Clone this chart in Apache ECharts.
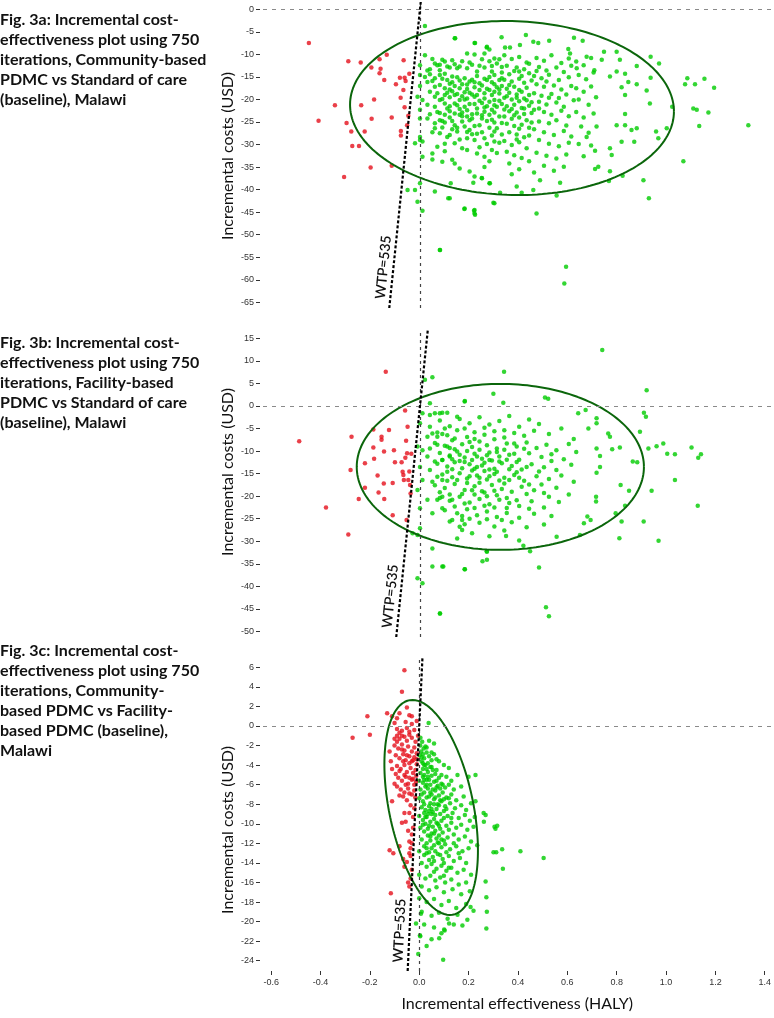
<!DOCTYPE html>
<html><head><meta charset="utf-8">
<script src="https://cdn.jsdelivr.net/npm/echarts@6/dist/echarts.min.js"></script>
<style>html,body{margin:0;padding:0;background:#fff}#c{width:774px;height:1018px}</style>
</head><body><div id="c"></div>
<script>
// ---------- tick labels ----------
const xTicks = [-0.6,-0.4,-0.2,0.0,0.2,0.4,0.6,0.8,1.0,1.2,1.4];
const yTicksA = [0,-5,-10,-15,-20,-25,-30,-35,-40,-45,-50,-55,-60,-65];
const yTicksB = [15,10,5,0,-5,-10,-15,-20,-25,-30,-35,-40,-45,-50];
const yTicksC = [6,4,2,0,-2,-4,-6,-8,-10,-12,-14,-16,-18,-20,-22,-24];
const WTP = 535;
const xName = 'Incremental effectiveness (HALY)';
const yName = 'Incremental costs (USD)';
const titles = [
 "Fig. 3a: Incremental cost-\neffectiveness plot using 750\niterations, Community-based\nPDMC vs Standard of care\n(baseline), Malawi",
 "Fig. 3b: Incremental cost-\neffectiveness plot using 750\niterations, Facility-based\nPDMC vs Standard of care\n(baseline), Malawi",
 "Fig. 3c: Incremental cost-\neffectiveness plot using 750\niterations, Community-\nbased PDMC vs Facility-\nbased PDMC (baseline),\nMalawi"
];
// confidence ellipses: [centre x, centre y, radius x, radius y, phase (deg)]
const ellipseA = [0.371,-21.9,0.653,19.3,92.2];
const ellipseB = [0.324,-13.5,0.579,18.4,90];
const ellipseC = [0.0484,-8.33,0.1895,10.99,113.6];

// ---------- panel a ----------
const redA = [[-0.448,-7.5],[-0.289,-11.5],[-0.239,-11.8],[-0.196,-12.9],[-0.163,-11.1],[-0.159,-13.2],[-0.163,-14.2],[-0.134,-10.1],[-0.144,-15.7],[-0.097,-16.6],[-0.081,-15.2],[-0.062,-15.2],[-0.058,-15.9],[-0.067,-17.9],[-0.066,-11.3],[-0.043,-14.3],[-0.185,-20.0],[-0.343,-21.3],[-0.237,-21.3],[-0.114,-24.0],[-0.062,-21.7],[-0.078,-19.6],[-0.047,-23.6],[-0.409,-24.7],[-0.296,-25.2],[-0.195,-24.3],[-0.277,-27.1],[-0.223,-27.1],[-0.077,-27.0],[-0.077,-28.0],[-0.246,-30.3],[-0.273,-30.3],[-0.199,-35.1],[-0.306,-37.2],[-0.114,-34.7],[-0.052,-25.7]];
const greenA = [[0.02,-3.7],[0.14,-6.4],[0.22,-7.5],[0.27,-8.3],[0.28,-8.9],[0.02,-10.2],[0.19,-9.8],[0.22,-10.0],[0.26,-9.8],[0.30,-10.9],[0.32,-11.1],[0.00,-12.4],[0.06,-12.0],[0.07,-12.4],[0.10,-11.6],[0.14,-12.2],[0.11,-12.7],[0.03,-13.6],[0.04,-13.3],[0.08,-13.5],[0.15,-13.1],[0.19,-13.1],[0.23,-13.8],[0.26,-12.9],[0.29,-13.8],[0.31,-12.0],
[0.00,-14.6],[0.04,-14.4],[0.06,-15.3],[0.08,-14.6],[0.11,-15.7],[0.13,-14.9],[0.15,-15.1],[0.18,-15.3],[0.20,-16.0],[0.23,-14.8],[0.24,-16.4],[0.27,-15.7],[0.30,-14.6],[0.32,-15.7],[0.03,-16.1],[0.08,-16.8],[0.06,-17.2],[0.10,-17.5],[0.14,-17.0],[0.16,-17.5],[0.19,-17.7],[0.22,-17.3],[0.24,-17.9],[0.28,-17.9],[0.31,-17.3],
[0.00,-17.0],[-0.01,-19.4],[0.01,-20.1],[0.06,-19.4],[0.08,-20.1],[0.12,-19.5],[0.14,-19.0],[0.16,-20.1],[0.19,-19.8],[0.22,-19.4],[0.26,-19.8],[0.30,-20.1],[0.31,-21.6],[0.06,-21.6],[0.10,-20.9],[0.14,-20.9],[0.18,-21.6],[0.23,-22.0],[0.27,-21.5],[0.29,-22.3],
[0.00,-24.2],[0.03,-24.2],[0.10,-23.4],[0.12,-24.0],[0.14,-23.1],[0.16,-23.4],[0.19,-23.8],[0.20,-24.6],[0.23,-23.1],[0.25,-24.2],[0.28,-23.4],[0.32,-23.8],[0.06,-25.3],[0.10,-25.1],[0.14,-25.7],[0.18,-26.0],[0.24,-25.7],[0.30,-25.1],[0.00,-22.3],[0.06,-26.4],
[0.00,-28.3],[0.01,-29.3],[0.08,-27.5],[0.12,-27.9],[0.15,-27.1],[0.20,-26.8],[0.26,-28.6],[0.30,-27.1],[0.07,-30.5],[0.10,-29.8],[0.14,-29.7],[0.19,-28.6],[0.22,-29.0],[0.27,-29.9],[0.30,-29.3],
[-0.02,-29.7],[0.00,-29.0],[0.01,-32.7],[0.05,-32.0],[0.09,-33.8],[0.13,-33.4],[0.19,-31.2],[0.23,-32.0],[0.26,-32.7],[0.29,-31.2],[0.05,-33.3],[0.16,-35.3],[0.20,-36.0],[0.22,-37.1],[0.25,-37.5],[0.28,-38.6],[0.14,-34.2],
[-0.05,-40.1],[-0.02,-40.1],[-0.00,-38.6],[0.06,-40.4],[0.12,-41.9],[0.18,-44.2],[0.22,-44.5],[0.22,-45.3],[0.30,-43.0],[-0.01,-42.7],[0.01,-44.7],[0.08,-53.4],
[0.142,-6.4],[0.329,-6.2],[0.427,-5.7],[0.457,-7.2],[0.521,-7.0],[0.621,-6.3],[0.656,-7.0],[0.222,-7.5],[0.269,-8.5],[0.343,-8.5],[0.363,-8.5],[0.403,-7.9],[0.477,-7.5],[0.598,-8.8],[0.605,-9.8],[0.742,-9.4],[0.793,-9.4],[0.930,-10.5],[0.964,-12.0],[0.672,-10.5],[0.733,-11.2],[0.806,-11.2],[0.874,-12.6],[0.632,-13.1],[0.703,-13.5],[0.766,-14.9],[0.793,-13.8],[0.827,-14.3],[0.840,-16.1],[0.813,-17.3],[0.874,-16.6],[0.827,-19.0],[0.930,-15.2],[0.914,-18.0],[0.927,-20.9],[1.078,-15.3],[1.069,-16.6],[1.109,-16.6],[1.147,-15.4],[1.186,-17.4],[1.102,-22.0],[1.116,-22.3],[1.163,-22.9],[1.126,-25.9],[1.324,-25.7],[1.017,-21.6],[0.995,-26.4],[0.961,-28.6],[0.952,-27.1],[0.874,-26.4],[0.853,-26.8],[0.827,-25.7],[0.793,-25.7],[0.827,-23.2],[0.712,-26.0],[0.672,-28.3],[0.706,-31.4],[0.766,-30.8],[0.773,-32.3],[0.864,-29.4],[0.813,-29.4],[1.062,-33.7],[0.719,-34.9],[0.706,-35.4],[0.766,-35.9],[0.817,-36.9],[0.762,-38.1],[0.901,-37.9],[0.923,-41.9],[0.484,-37.9],[0.565,-38.5],[0.551,-41.3],[0.457,-40.1],[0.410,-40.7],[0.323,-40.7],[0.390,-39.3],[0.296,-42.9],[0.215,-38.5],[0.282,-38.6],[0.249,-37.4],[0.124,-38.6],[0.114,-41.9],[0.179,-44.3],[0.218,-44.7],[0.222,-45.6],[0.470,-45.3],[0.081,-53.4],[0.589,-57.1],[0.582,-60.8],
[0.34,-10.2],[0.37,-11.0],[0.40,-10.6],[0.43,-11.8],[0.35,-12.5],[0.39,-12.9],[0.42,-13.3],[0.44,-12.1],[0.33,-14.0],[0.36,-14.4],[0.38,-13.7],[0.41,-14.8],[0.44,-14.2],[0.34,-15.6],[0.37,-16.0],[0.40,-15.4],[0.42,-16.3],[0.45,-15.8],[0.33,-17.0],[0.35,-17.6],[0.38,-17.2],[0.40,-17.9],[0.43,-17.4],[0.36,-18.5],[0.39,-18.9],[0.41,-18.3],[0.44,-19.0],[0.34,-19.6],[0.37,-20.0],[0.40,-20.4],[0.42,-19.8],[0.45,-20.6],[0.33,-21.0],[0.35,-21.5],[0.38,-21.2],[0.41,-21.9],[0.44,-21.4],[0.36,-22.6],[0.39,-22.9],[0.42,-23.2],[0.34,-23.8],[0.37,-24.3],[0.40,-24.0],[0.43,-24.6],[0.35,-25.4],[0.38,-25.9],[0.41,-25.6],[0.44,-26.3],[0.36,-27.3],[0.39,-27.8],[0.42,-28.4],[0.34,-29.2],[0.37,-30.1],[0.40,-29.5],[0.43,-30.8],[0.35,-31.6],[0.38,-32.4],[0.41,-33.0],[0.36,-34.2],[0.44,-33.7],[0.40,-35.5],[0.37,-36.6],
[0.47,-10.8],[0.50,-11.4],[0.53,-10.2],[0.57,-11.9],[0.60,-10.9],[0.48,-12.8],[0.51,-13.6],[0.55,-12.9],[0.58,-13.9],[0.61,-12.5],[0.46,-14.8],[0.49,-15.3],[0.52,-14.5],[0.56,-15.7],[0.60,-15.1],[0.47,-16.6],[0.50,-17.2],[0.54,-16.9],[0.57,-17.8],[0.61,-17.0],[0.46,-18.6],[0.49,-19.2],[0.53,-18.8],[0.56,-19.7],[0.59,-18.9],[0.48,-20.5],[0.51,-21.1],[0.55,-20.7],[0.58,-21.6],[0.62,-20.2],[0.46,-22.3],[0.50,-22.8],[0.53,-23.4],[0.57,-22.5],[0.60,-23.7],[0.48,-24.9],[0.52,-25.3],[0.55,-24.6],[0.59,-25.8],[0.46,-26.6],[0.50,-27.3],[0.54,-27.9],[0.58,-27.0],[0.61,-28.2],[0.48,-29.0],[0.52,-29.8],[0.56,-30.4],[0.60,-29.6],[0.47,-31.8],[0.51,-32.5],[0.55,-33.1],[0.59,-32.2],[0.50,-34.7],[0.54,-35.8],[0.46,-36.2],[0.58,-34.9],
[0.63,-11.6],[0.66,-12.4],[0.69,-10.8],[0.64,-14.6],[0.67,-15.5],[0.70,-14.0],[0.63,-17.5],[0.66,-18.3],[0.69,-17.1],[0.64,-20.0],[0.68,-21.2],[0.71,-19.5],[0.63,-22.8],[0.66,-24.0],[0.70,-23.1],[0.65,-26.0],[0.68,-27.4],[0.64,-29.9],[0.69,-30.2],[0.66,-32.6],
[0.09,-11.2],[0.12,-12.9],[0.17,-11.5],[0.21,-12.3],[0.25,-11.1],[0.29,-12.6],[0.10,-14.3],[0.13,-16.2],[0.17,-16.6],[0.21,-15.6],[0.25,-16.9],[0.29,-16.2],[0.11,-18.5],[0.15,-18.8],[0.18,-18.4],[0.21,-18.9],[0.26,-18.6],[0.29,-19.0],[0.32,-18.7],[0.09,-19.9],[0.12,-21.5],[0.16,-22.1],[0.20,-21.0],[0.25,-20.8],[0.28,-20.5],[0.32,-20.3],[0.08,-23.0],[0.12,-22.6],[0.17,-22.9],[0.21,-23.3],[0.26,-22.7],[0.30,-22.9],[0.09,-24.8],[0.13,-26.6],[0.17,-24.9],[0.22,-25.9],[0.27,-24.8],[0.31,-26.4],[0.11,-28.3],[0.16,-28.9],[0.21,-27.7],[0.25,-27.3],[0.29,-28.0],[0.32,-29.6],[0.10,-31.5],[0.17,-30.8],[0.24,-30.6],[0.28,-33.7],[0.31,-31.9],[0.26,-35.0],
[0.05,-11.0],[0.08,-12.3],[0.13,-11.3],[0.16,-12.7],[0.20,-11.8],[0.24,-12.5],[0.28,-11.5],[0.33,-12.8],[0.02,-15.0],[0.05,-15.9],[0.09,-15.4],[0.12,-16.5],[0.16,-15.8],[0.19,-16.7],[0.22,-16.2],[0.26,-15.4],[0.30,-16.6],[0.33,-15.3],[0.04,-18.3],[0.07,-18.6],[0.10,-19.0],[0.13,-18.2],[0.17,-19.3],[0.20,-18.5],[0.23,-19.0],[0.27,-17.6],[0.30,-18.3],[0.35,-19.3],[0.39,-19.6],[0.43,-20.2],[0.03,-21.2],[0.07,-22.8],[0.11,-22.0],[0.15,-21.3],[0.19,-22.4],[0.22,-21.0],[0.26,-21.8],[0.30,-21.3],[0.34,-22.2],[0.38,-23.5],[0.42,-22.0],[0.45,-23.0],[0.04,-23.3],[0.08,-24.6],[0.13,-24.8],[0.17,-23.7],[0.21,-24.2],[0.25,-23.5],[0.29,-24.5],[0.33,-25.2],[0.37,-22.1],[0.40,-26.5],[0.45,-25.1],[0.48,-22.0],[0.52,-19.6],[0.51,-16.0],[0.47,-13.7],[0.40,-13.8],[0.36,-16.8],[0.32,-17.8],[0.28,-15.0],[0.24,-20.3],[0.18,-20.0],[0.12,-17.8],[0.05,-27.3],[0.09,-26.2],[0.15,-26.3],[0.19,-27.2],[0.23,-27.6],[0.28,-26.3],[0.33,-27.8],[0.39,-28.9],[0.44,-28.0]];

// ---------- panel b ----------
const redB = [[-0.138,7.6],[-0.487,-7.8],[-0.379,-22.5],[-0.289,-28.5],[-0.276,-6.8],[-0.280,-14.2],[-0.247,-20.6],[-0.222,-12.7],[-0.222,-18.1],[-0.188,-5.2],[-0.188,-9.2],[-0.185,-11.7],[-0.171,-15.4],[-0.167,-19.2],[-0.155,-6.8],[-0.155,-7.5],[-0.145,-10.1],[-0.146,-17.2],[-0.144,-20.6],[-0.125,-5.3],[-0.110,-17.1],[-0.110,-24.2],[-0.105,-9.8],[-0.101,-12.5],[-0.074,-12.5],[-0.070,-14.6],[-0.067,-15.3],[-0.065,-16.4],[-0.060,-1.0],[-0.056,-7.7],[-0.052,-10.5],[-0.050,-4.6],[-0.047,-16.4],[-0.043,-14.5],[-0.040,-17.5],[-0.035,-10.6],[-0.038,-19.4],[-0.054,-25.3],[-0.059,-11.5]];
const greenB = [[0.02,5.8],[0.05,6.4],[0.04,0.6],[0.01,-1.6],[0.04,-2.0],[0.06,-1.6],[0.08,-1.6],[0.09,-1.5],[0.11,-1.5],[0.15,-2.4],[0.18,1.0],[0.00,-3.8],[0.04,-4.6],[0.03,-6.8],[0.05,-6.1],[0.07,-6.8],[0.09,-6.2],[-0.01,-9.0],[0.01,-9.8],[0.04,-9.4],[0.07,-8.6],[0.11,-9.0],[0.03,-11.2],[0.06,-12.3],[0.09,-12.0],[0.12,-11.2],[0.00,-13.5],[0.04,-14.2],[0.07,-15.7],[0.11,-14.6],[0.01,-16.4],[0.05,-16.8],[0.09,-16.4],[-0.01,-18.6],[0.03,-20.8],[0.07,-20.8],[0.09,-20.1],[0.13,-20.8],[0.00,-22.7],[0.05,-23.8],[0.09,-22.7],[0.13,-25.3],[0.16,-26.8],[0.17,-25.3],[0.00,-27.1],[-0.03,-28.2],[-0.01,-28.6],[0.05,-31.6],[0.05,-35.6],[0.09,-35.6],[0.18,-36.2],[0.27,-34.1],[0.27,-32.3],[-0.01,-38.2],[0.01,-39.3],[0.08,-46.0],[0.17,-27.5],
[0.735,12.4],[0.339,7.6],[0.296,2.7],[0.504,1.9],[0.517,1.6],[0.181,1.1],[0.336,0.7],[0.914,3.5],[0.903,-1.5],[0.911,-2.4],[0.887,-5.7],[0.921,-9.4],[0.954,-8.9],[0.981,-8.3],[0.997,-10.6],[1.028,-10.7],[1.095,-9.2],[1.133,-10.7],[1.122,-11.5],[1.028,-16.4],[1.120,-22.1],[0.934,-18.8],[0.902,-25.6],[0.962,-29.9],[0.804,-29.3],[0.813,-25.6],[0.789,-23.8],[0.827,-22.1],[0.843,-18.8],[0.809,-17.5],[0.858,-12.3],[0.876,-12.5],[0.806,-9.2],[0.775,-9.6],[0.759,-6.1],[0.766,-6.8],[0.712,-2.7],[0.712,-3.8],[0.679,-5.0],[0.638,-1.6],[0.668,-0.9],[0.712,-9.4],[0.726,-11.1],[0.712,-14.8],[0.726,-13.5],[0.710,-20.1],[0.710,-21.2],[0.675,-24.5],[0.688,-25.3],[0.661,-26.0],[0.645,-28.6],[0.551,-29.0],[0.444,-32.2],[0.417,-31.0],[0.269,-32.2],[0.252,-34.4],[0.181,-36.2],[0.094,-35.6],[0.480,-35.8],[0.347,-28.8],[0.508,-44.6],[0.520,-46.6],[0.081,-46.0],
[0.08,-3.2],[0.12,-4.5],[0.16,-2.9],[0.20,-3.8],[0.24,-2.5],[0.28,-4.1],[0.32,-3.3],[0.36,-2.2],[0.40,-4.6],[0.44,-3.0],[0.48,-4.0],
[0.07,-5.9],[0.11,-6.5],[0.15,-5.4],[0.19,-6.9],[0.22,-5.8],[0.26,-6.4],[0.30,-5.6],[0.34,-7.0],[0.38,-6.0],[0.42,-6.6],[0.46,-5.5],[0.52,-6.2],[0.57,-5.0],[0.62,-7.3],
[0.06,-8.2],[0.10,-8.8],[0.13,-7.6],[0.17,-8.5],[0.21,-9.1],[0.24,-7.9],[0.27,-8.7],[0.31,-9.4],[0.35,-8.3],[0.39,-9.0],[0.43,-8.1],[0.47,-9.3],[0.51,-8.6],[0.55,-9.8],[0.60,-8.4],
[0.08,-10.4],[0.12,-11.0],[0.15,-10.1],[0.18,-11.4],[0.22,-10.6],[0.25,-11.7],[0.28,-10.3],[0.32,-11.2],[0.36,-10.8],[0.40,-11.9],[0.44,-10.5],[0.49,-11.3],[0.53,-10.7],[0.58,-11.8],[0.63,-10.2],
[0.07,-12.8],[0.11,-13.4],[0.14,-12.5],[0.17,-13.8],[0.20,-12.9],[0.23,-13.5],[0.26,-12.6],[0.30,-13.9],[0.33,-12.7],[0.37,-13.3],[0.41,-14.1],[0.45,-12.9],[0.50,-13.6],[0.55,-14.2],[0.61,-13.0],
[0.09,-15.2],[0.13,-15.8],[0.16,-14.9],[0.19,-16.1],[0.23,-15.4],[0.27,-16.3],[0.30,-15.1],[0.34,-15.9],[0.38,-15.3],[0.42,-16.6],[0.47,-15.6],[0.52,-16.2],[0.57,-15.4],[0.62,-16.8],
[0.06,-17.6],[0.10,-18.2],[0.14,-17.3],[0.18,-18.6],[0.22,-17.8],[0.25,-18.9],[0.29,-17.5],[0.33,-18.4],[0.37,-19.0],[0.41,-17.9],[0.46,-18.7],[0.50,-19.3],[0.55,-18.1],[0.60,-19.6],
[0.08,-20.4],[0.12,-21.0],[0.16,-20.1],[0.20,-21.4],[0.24,-20.6],[0.28,-21.8],[0.32,-20.8],[0.36,-21.5],[0.40,-22.2],[0.45,-21.1],[0.50,-22.5],[0.56,-21.3],
[0.10,-23.1],[0.15,-23.8],[0.19,-22.9],[0.23,-24.2],[0.27,-23.4],[0.31,-24.6],[0.35,-23.7],[0.40,-24.8],[0.46,-23.9],[0.53,-24.4],
[0.12,-25.6],[0.18,-26.2],[0.24,-25.9],[0.30,-26.7],[0.37,-25.8],[0.43,-26.9],[0.50,-26.3],[0.21,-28.2],[0.28,-28.9],[0.34,-27.6],[0.15,-29.4],[0.40,-29.8],
[0.14,-9.6],[0.19,-10.0],[0.24,-9.7],[0.29,-12.1],[0.21,-12.0],[0.16,-12.2],[0.26,-14.4],[0.31,-14.6],[0.21,-14.3],[0.35,-11.9],[0.28,-15.6],[0.24,-17.0],[0.19,-17.1],[0.34,-17.2],[0.13,-14.0],[0.39,-14.7],[0.31,-19.8],[0.22,-19.6],[0.27,-20.0],[0.43,-19.5],
[0.10,-5.0],[0.14,-7.2],[0.18,-5.0],[0.22,-7.3],[0.26,-4.8],[0.30,-7.4],[0.34,-5.4],[0.38,-8.3],[0.12,-9.3],[0.16,-10.8],[0.20,-8.0],[0.23,-11.2],[0.27,-10.9],[0.31,-10.2],[0.34,-9.7],[0.38,-10.6],[0.42,-9.5],[0.09,-12.0],[0.13,-11.8],[0.18,-12.4],[0.22,-13.9],[0.25,-13.2],[0.28,-12.0],[0.32,-12.3],[0.36,-14.0],[0.39,-12.4],[0.43,-13.5],[0.11,-16.6],[0.15,-16.4],[0.20,-15.6],[0.24,-15.9],[0.28,-14.1],[0.32,-16.5],[0.36,-16.4],[0.40,-15.9],[0.44,-17.4],[0.08,-19.1],[0.12,-19.6],[0.17,-19.5],[0.21,-18.7],[0.26,-19.2],[0.30,-18.8],[0.35,-20.4],[0.39,-20.9],[0.14,-22.3],[0.18,-21.6],[0.22,-22.6],[0.26,-22.1],[0.30,-22.5],[0.35,-22.6],[0.44,-22.8],[0.20,-25.0],[0.27,-25.1],[0.33,-25.3],[0.17,-24.4],[0.48,-14.5],[0.49,-17.4],[0.53,-12.2],[0.52,-20.1]];

// ---------- panel c ----------
const redC = [[-0.06,5.7],[-0.07,3.5],[-0.05,1.9],[-0.13,1.3],[-0.21,1.0],[-0.20,-0.9],[-0.27,-1.2],[-0.11,1.0],[-0.09,0.8],[-0.08,1.3],[-0.04,1.1],[-0.03,1.0],[-0.12,-12.7],[-0.105,-13.0],[-0.115,-17.1],[-0.09,-6.2],[-0.08,-7.1],[-0.06,-8.9],[-0.055,-9.8],[-0.04,-8.9],[-0.06,-14.4],[-0.04,-13.0],[-0.035,-12.5],[-0.04,-11.8],
[-0.10,0.3],[-0.09,-0.3],[-0.07,-0.5],[-0.05,-0.2],[-0.03,0.2],[-0.02,-0.4],[-0.01,0.5],
[-0.09,-1.0],[-0.08,-1.3],[-0.06,-1.1],[-0.05,-1.5],[-0.04,-0.9],[-0.03,-1.2],[-0.015,-1.6],[-0.005,-1.0],
[-0.10,-2.0],[-0.085,-2.3],[-0.07,-1.9],[-0.06,-2.5],[-0.045,-2.1],[-0.03,-2.6],[-0.02,-2.2],[-0.01,-2.8],
[-0.095,-3.0],[-0.08,-3.3],[-0.065,-2.9],[-0.055,-3.5],[-0.04,-3.1],[-0.03,-3.6],[-0.02,-3.2],[-0.01,-3.9],[-0.01,-3.4],
[-0.09,-4.1],[-0.075,-4.4],[-0.06,-4.0],[-0.05,-4.7],[-0.035,-4.3],[-0.025,-4.8],[-0.015,-4.5],[-0.012,-5.1],
[-0.085,-5.3],[-0.07,-5.6],[-0.055,-5.2],[-0.045,-5.9],[-0.03,-5.5],[-0.02,-6.0],[-0.013,-5.7],
[-0.075,-6.5],[-0.06,-6.8],[-0.045,-6.4],[-0.03,-7.0],[-0.02,-6.6],[-0.016,-7.3],
[-0.11,-7.7],[-0.095,-4.9],[-0.115,-3.6],[-0.12,-2.6],[-0.05,-7.6],[-0.035,-8.1],[-0.02,-8.4],[-0.025,-9.3],[-0.025,-10.4],[-0.07,-9.9],[-0.045,-10.7],[-0.03,-11.1],[-0.03,-12.0],[-0.035,-13.3],[-0.08,-12.3],[-0.065,-13.6],[-0.05,-13.9],[-0.03,-14.7],[-0.035,-15.6],[-0.04,-16.4],[-0.045,-16.0],
[-0.09,-1.6],[-0.07,-2.4],[-0.05,-3.0],[-0.04,-3.8],[-0.065,-3.6],[-0.08,-4.6],[-0.06,-5.0],[-0.04,-5.3],[-0.025,-5.4],[-0.055,-6.0],[-0.065,-7.2],[-0.04,-6.9],[-0.10,-5.9],[-0.11,-4.4],[-0.07,-1.0],[-0.055,0.4],[-0.04,-0.6],[-0.08,-0.7],[-0.1,-1.3],[-0.025,-3.5]];
const greenC = [[0.038,0.3],[0.504,-13.5],[0.410,-12.8],[0.336,-12.6],[0.312,-12.9],[0.339,-14.6],[0.309,-10.5],[0.316,-10.2],[0.262,-9.8],[0.269,-9.1],[0.228,-5.0],[0.228,-7.7],[0.269,-15.9],[0.272,-17.5],[0.272,-20.7],[0.208,-18.5],[0.175,-20.4],[0.121,-20.2],[0.081,-21.7],[0.004,-21.5],[0.007,-19.2],[-0.013,-20.2],[0.101,-20.8],[0.097,-23.9],[0.103,-20.9],[-0.004,-23.3],[0.003,-21.4],[0.274,-19.0],[0.301,-12.9],[0.305,-10.3],[0.261,-8.9],
[0.005,-1.2],[0.012,-1.6],[0.004,-2.0],[0.018,-2.3],[0.008,-2.6],[0.025,-2.1],[0.015,-2.9],[0.03,-2.7],[0.002,-3.0],[0.02,-3.3],[0.04,-3.1],[0.01,-3.6],[0.035,-3.8],[0.05,-3.5],[0.025,-4.0],[0.06,-2.9],[0.08,-3.6],[0.045,-4.2],[0.015,-4.4],[0.07,-4.5],[0.1,-4.0],[0.09,-5.0],[0.12,-4.3],[0.04,-1.5],[0.06,-1.8],
[0.005,-4.8],[0.02,-5.0],[0.035,-4.7],[0.05,-5.1],[0.065,-4.9],[0.08,-5.3],[0.11,-5.2],[0.13,-5.6],[0.155,-5.0],[0.2,-5.2],
[0.0,-5.6],[0.015,-5.8],[0.03,-5.5],[0.045,-6.0],[0.06,-5.7],[0.075,-6.1],[0.09,-5.9],[0.105,-6.3],[0.12,-6.0],[0.14,-6.5],[0.17,-6.2],
[0.005,-6.5],[0.02,-6.8],[0.035,-6.4],[0.05,-7.0],[0.065,-6.6],[0.08,-7.1],[0.095,-6.8],[0.11,-7.3],[0.13,-7.0],[0.15,-7.6],[0.18,-7.2],[0.21,-7.9],
[0.0,-7.4],[0.015,-7.7],[0.03,-7.3],[0.045,-7.9],[0.06,-7.5],[0.075,-8.0],[0.09,-7.7],[0.105,-8.2],[0.125,-7.9],[0.145,-8.4],[0.17,-8.1],[0.19,-8.6],
[0.01,-8.3],[0.025,-8.6],[0.04,-8.2],[0.055,-8.8],[0.07,-8.5],[0.085,-9.0],[0.1,-8.7],[0.115,-9.2],[0.135,-8.9],[0.16,-9.4],[0.185,-9.1],[0.205,-9.7],[0.225,-9.3],
[0.0,-9.2],[0.015,-9.6],[0.03,-9.3],[0.045,-9.8],[0.06,-9.5],[0.075,-10.0],[0.09,-9.7],[0.11,-10.2],[0.13,-9.9],[0.15,-10.4],[0.17,-10.1],[0.195,-10.6],[0.22,-10.3],
[0.005,-10.4],[0.02,-10.8],[0.035,-10.5],[0.05,-11.0],[0.065,-10.7],[0.08,-11.2],[0.095,-10.9],[0.115,-11.4],[0.14,-11.1],[0.16,-11.6],[0.185,-11.3],[0.21,-11.8],
[0.01,-11.6],[0.03,-12.0],[0.045,-11.7],[0.06,-12.2],[0.075,-11.9],[0.09,-12.4],[0.105,-12.1],[0.125,-12.6],[0.15,-12.3],[0.175,-12.8],[0.2,-12.5],[0.235,-12.2],
[0.0,-12.8],[0.02,-13.2],[0.04,-12.9],[0.055,-13.4],[0.075,-13.1],[0.095,-13.6],[0.12,-13.3],[0.14,-13.8],[0.165,-13.5],[0.19,-14.0],
[0.01,-14.0],[0.03,-14.4],[0.05,-14.1],[0.07,-14.6],[0.09,-14.3],[0.11,-14.8],[0.13,-14.5],[0.155,-15.0],[0.18,-14.7],[0.21,-15.2],
[0.0,-15.2],[0.025,-15.6],[0.045,-15.3],[0.065,-15.8],[0.085,-15.5],[0.105,-16.0],[0.13,-15.7],[0.16,-16.2],[0.19,-16.0],
[0.01,-16.4],[0.04,-16.8],[0.07,-16.5],[0.1,-17.0],[0.135,-16.7],[0.17,-17.2],[0.205,-16.9],
[0.0,-17.6],[0.03,-18.0],[0.06,-17.7],[0.09,-18.3],[0.12,-17.9],[0.15,-18.6],[0.19,-18.2],[0.22,-18.9],
[0.01,-19.0],[0.05,-19.4],[0.08,-19.1],[0.115,-19.7],[0.155,-19.3],[0.195,-19.8],
[0.02,-20.3],[0.06,-20.6],[0.14,-20.3],[0.09,-21.2],[0.03,-22.5],[0.05,-21.8],
[0.01,-3.2],[0.03,-4.4],[0.02,-4.0],[0.055,-4.5],[0.04,-5.5],[0.025,-6.2],[0.07,-5.6],[0.055,-6.5],[0.085,-6.4],[0.04,-7.2],[0.065,-7.3],[0.1,-7.5],[0.02,-8.0],[0.05,-8.5],[0.08,-8.1],[0.035,-9.0],[0.065,-9.1],[0.1,-9.4],[0.025,-10.0],[0.055,-10.3],[0.085,-10.5],[0.045,-11.3],[0.07,-11.5],[0.1,-11.7],[0.03,-12.5],[0.065,-12.8],[0.085,-13.2],[0.04,-13.7],[0.06,-14.9],[0.1,-15.3],
[0.015,-5.2],[0.03,-6.0],[0.045,-6.8],[0.01,-7.0],[0.02,-8.9],[0.05,-9.0],[0.07,-9.9],[0.04,-10.2],[0.08,-10.2],[0.06,-11.0],[0.09,-11.6],[0.02,-12.3],[0.05,-12.5],[0.08,-12.0],[0.11,-12.9],[0.03,-13.0],[0.06,-13.8],[0.10,-14.0],[0.12,-14.5],[0.14,-12.0],[0.16,-13.0],[0.12,-10.6],[0.13,-9.4],[0.11,-8.5],[0.12,-7.4],[0.095,-6.0],[0.07,-6.3],[0.085,-7.6],[0.06,-8.0],[0.04,-8.7],[0.025,-9.3],[0.015,-10.1],[0.035,-11.2],[0.05,-4.2],[0.035,-5.2],[0.02,-5.5],[0.015,-3.8],[0.05,-2.7],[0.03,-2.2],[0.07,-3.4]];

// ---------- layout ----------
const X_MIN = -0.633, X_MAX = 1.4275;
const yRange = [[-66.26,1.62],[-51.22,16.85],[-25.05,6.95]];
const gridBox = [[2,306],[330,307],[658,313]];
const yNameCentre = [156,472,830];
const titleTops = [10,333,641];
const yTickSets = [yTicksA,yTicksB,yTicksC];
const reds = [redA,redB,redC], greens = [greenA,greenB,greenC];
const ellipses = [ellipseA,ellipseB,ellipseC];

const FONT = 'Lato, "Open Sans", sans-serif';
const TICKFONT = '"Liberation Sans", Arial, sans-serif';
const RED = '#e5101c', GREEN = '#00cc00', DKGREEN = '#0b660b';

function ellipsePts(e){
  const [cx,cy,rx,ry,ph]=e, p=[], n=200;
  for(let i=0;i<=n;i++){const t=i/n*2*Math.PI;p.push([cx+rx*Math.cos(t), cy+ry*Math.cos(t-ph*Math.PI/180)]);}
  return p;
}

const grid=[], xAxis=[], yAxis=[], series=[], title=[], graphic=[];
for(let i=0;i<3;i++){
  grid.push({left:263, top:gridBox[i][0], width:511, height:gridBox[i][1]});
  xAxis.push({type:'value', gridIndex:i, min:X_MIN, max:X_MAX, show:i===2,
    splitLine:{show:false}, axisLine:{show:false, onZero:false},
    axisTick:{show:true, length:4, customValues:xTicks, lineStyle:{color:'#333', width:1}},
    axisLabel:{customValues:xTicks, formatter:v=>v.toFixed(1), fontSize:9, color:'#333', margin:7, fontFamily:TICKFONT},
    name: i===2 ? xName : '', nameLocation:'middle', nameGap:25,
    nameTextStyle:{fontSize:16, color:'#111', fontFamily:FONT}});
  yAxis.push({type:'value', gridIndex:i, min:yRange[i][0], max:yRange[i][1], offset:3,
    splitLine:{show:false}, axisLine:{show:false, onZero:false},
    axisTick:{show:true, length:4, customValues:yTickSets[i], lineStyle:{color:'#333', width:1}},
    axisLabel:{customValues:yTickSets[i], fontSize:9, color:'#333', margin:6, fontFamily:TICKFONT}});
  title.push({text:titles[i], left:0, top:titleTops[i], padding:0,
    textStyle:{fontSize:16, fontWeight:'bold', lineHeight:20, color:'#111', fontFamily:FONT}});
  graphic.push({type:'text', x:228, y:yNameCentre[i], rotation:Math.PI/2,
    style:{text:yName, font:'16px ' + FONT, fill:'#111', align:'center', verticalAlign:'middle'}});

  series.push({type:'scatter', xAxisIndex:i, yAxisIndex:i, data:greens[i], symbolSize:4.5,
    itemStyle:{color:GREEN}, silent:true, z:2,
    markLine:{silent:true, symbol:'none', label:{show:false}, animation:false,
      data:[{yAxis:0, lineStyle:{color:'#8a8a8a', type:[4,5], width:1.2}},
            {xAxis:0, lineStyle:{color:'#444', type:[3,4], width:1.2}}]}});
  series.push({type:'scatter', xAxisIndex:i, yAxisIndex:i, data:reds[i], symbolSize:4.5,
    itemStyle:{color:RED}, silent:true, z:2});
  series.push({type:'line', xAxisIndex:i, yAxisIndex:i, data:ellipsePts(ellipses[i]), showSymbol:false,
    lineStyle:{color:DKGREEN, width:2}, silent:true, z:3});
  const y0=yRange[i][0], y1=yRange[i][1];
  series.push({type:'line', xAxisIndex:i, yAxisIndex:i, data:[], silent:true, z:4,
    markLine:{silent:true, symbol:'none', animation:false,
      lineStyle:{color:'#000', type:[3,2], width:2.2},
      label:{show:true, formatter:'WTP=' + WTP, position:'insideStartTop', distance:[8,3],
        fontSize:14, fontWeight:600, color:'#111', fontFamily:FONT},
      data:[[{coord:[y0/WTP, y0]},{coord:[y1/WTP, y1]}]]}});
}

const chart = echarts.init(document.getElementById('c'), null, {renderer:'canvas'});
chart.setOption({animation:false, backgroundColor:'#fff', title, grid, xAxis, yAxis, series, graphic});
</script>
</body></html>
